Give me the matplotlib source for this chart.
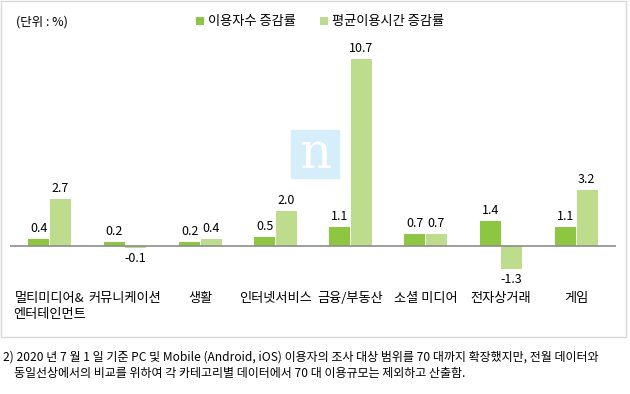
import numpy as np
import matplotlib
matplotlib.use("Agg")
import matplotlib.pyplot as plt
from matplotlib.patches import Rectangle

plt.rcParams["font.family"] = ["Noto Sans CJK KR", "DejaVu Sans"]

categories = ["멀티미디어&\n엔터테인먼트", "커뮤니케이션", "생활", "인터넷서비스",
              "금융/부동산", "소셜 미디어", "전자상거래", "게임"]
users_change = [0.4, 0.2, 0.2, 0.5, 1.1, 0.7, 1.4, 1.1]
time_change = [2.7, -0.1, 0.4, 2.0, 10.7, 0.7, -1.3, 3.2]
series_names = ["이용자수 증감률", "평균이용시간 증감률"]
unit_label = "(단위 : %)"
footnote = ("2) 2020 년 7 월 1 일 기준 PC 및 Mobile (Android, iOS) 이용자의 조사 대상 범위를 70 대까지 확장했지만, 전월 데이터와\n"
            "    동일선상에서의 비교를 위하여 각 카테고리별 데이터에서 70 대 이용규모는 제외하고 산출함.")

DARK = "#8DC63F"
LIGHT = "#BDDD8C"

W, H = 630, 394
fig = plt.figure(figsize=(W / 100, H / 100), dpi=100)

# outer frame of the chart area
fig.patches.append(Rectangle((1 / W, 1 - 337 / H), 625 / W, 336 / H,
                             transform=fig.transFigure, fill=False,
                             edgecolor="#D9D9D9", linewidth=1))

ax = fig.add_axes([10 / W, 1 - 298.4 / H, 606 / W, 262.2 / H])
x = np.arange(len(categories))
bw = 0.28
ax.bar(x - bw / 2 - 0.005, users_change, bw, color=DARK, label=series_names[0])
ax.bar(x + bw / 2 + 0.005, time_change, bw, color=LIGHT, label=series_names[1])
ax.axhline(0, color="#8C8C8C", linewidth=1.2)
ax.set_xlim(-0.53, len(categories) - 0.47)
ax.set_ylim(-3, 12)
ax.axis("off")

for xs, vals in [(x - bw / 2, users_change), (x + bw / 2, time_change)]:
    for xi, v in zip(xs, vals):
        if v >= 0:
            ax.annotate(f"{v:.1f}", (xi, v), xytext=(0, 3), textcoords="offset points",
                        ha="center", va="bottom", fontsize=9)
        else:
            ax.annotate(f"{v:.1f}", (xi, v), xytext=(0, -3), textcoords="offset points",
                        ha="center", va="top", fontsize=9)

for xi, name in zip(x, categories):
    ax.text(xi, -2.65, name, ha="center", va="top", fontsize=9.5, linespacing=1.25)

fig.text(16 / W, 1 - 22 / H, unit_label, fontsize=9, va="center")
leg = fig.legend(loc="center", bbox_to_anchor=(320 / W, 1 - 22 / H), ncol=2, frameon=False,
                 fontsize=9.5, handlelength=0.6, handleheight=0.6, handletextpad=0.3,
                 columnspacing=1.8)

# watermark logo
fig.patches.append(Rectangle((291 / W, 1 - 178 / H), 48 / W, 48 / H,
                             transform=fig.transFigure, color="#D6EEF9", zorder=0))
fig.text(315 / W, 1 - 154 / H, "n", family="DejaVu Serif", fontsize=36, color="white",
         ha="center", va="center")

fig.text(3 / W, 1 - 365 / H, footnote, fontsize=8.65, va="center", linespacing=1.35)

fig.savefig("out.png", dpi=100)
